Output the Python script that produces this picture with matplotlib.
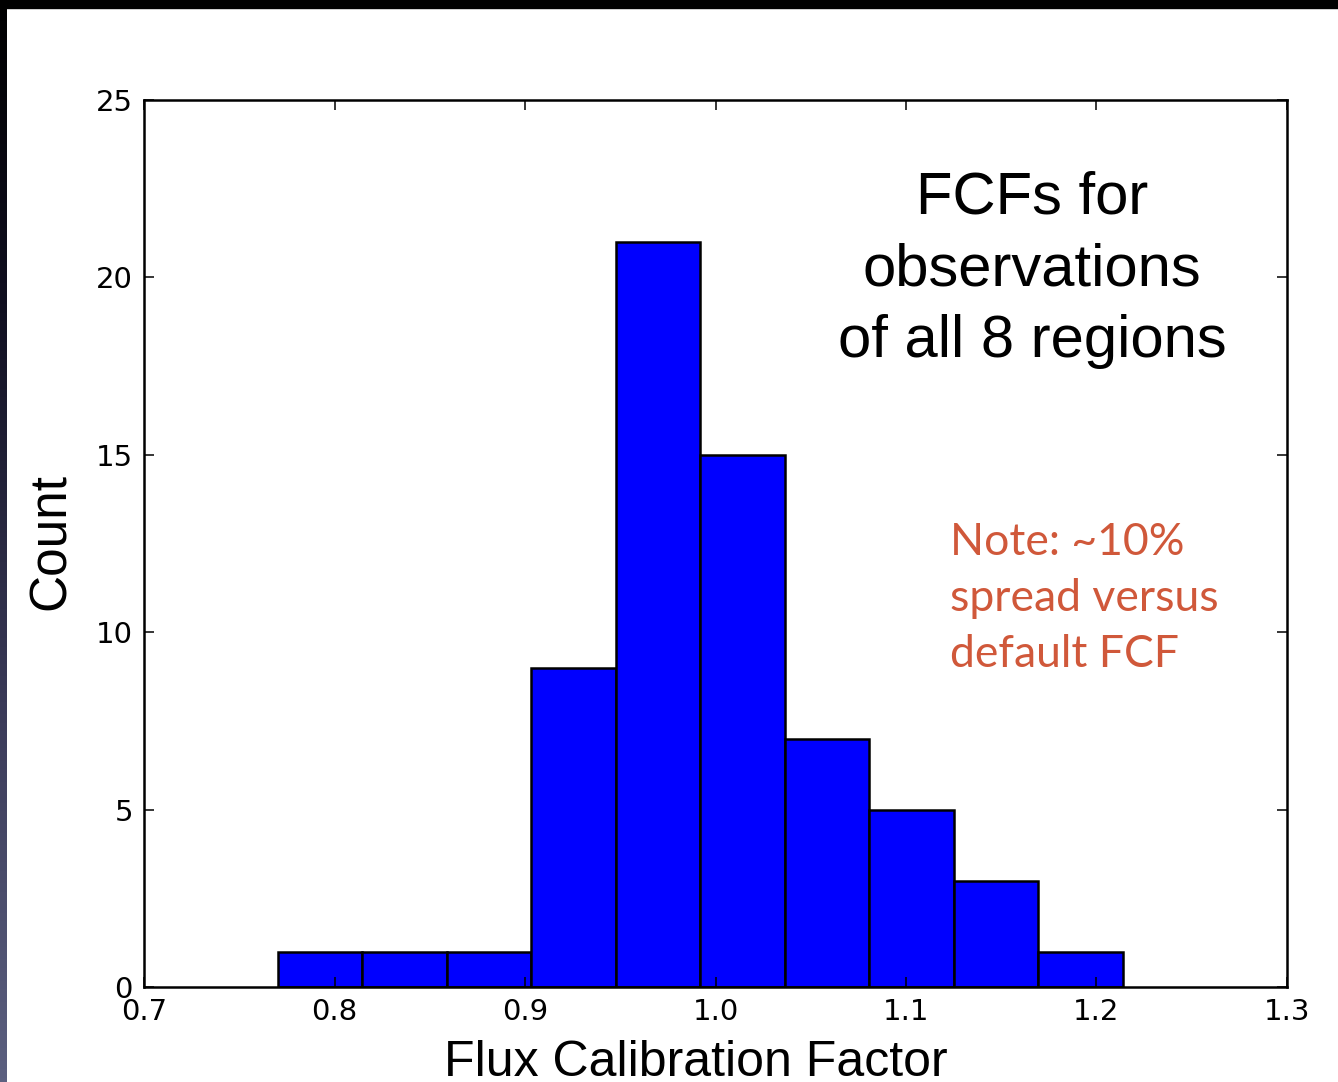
import numpy as np
import matplotlib
matplotlib.use("Agg")
import matplotlib.pyplot as plt
from matplotlib.colors import LinearSegmentedColormap
from matplotlib.patches import Rectangle

# histogram of flux calibration factors (10 equal-width bins)
bin_lo, bin_hi = 0.7703, 1.2139
counts = [1, 1, 1, 9, 21, 15, 7, 5, 3, 1]
bin_edges = np.linspace(bin_lo, bin_hi, len(counts) + 1)

x_ticks = [0.7, 0.8, 0.9, 1.0, 1.1, 1.2, 1.3]
y_ticks = [0, 5, 10, 15, 20, 25]

title_lines = "FCFs for\nobservations\nof all 8 regions"
note_lines = "Note: ~10%\nspread versus\ndefault FCF"

fig = plt.figure(figsize=(13.38, 10.82), dpi=100)
fig.patch.set_facecolor("white")

ax = fig.add_axes([144 / 1338, 1 - 987 / 1082, 1143 / 1338, 887 / 1082])
ax.hist(bin_edges[:-1], bins=bin_edges, weights=counts,
        color="#0000ff", edgecolor="black", linewidth=1.8)

ax.set_xlim(0.7, 1.3)
ax.set_ylim(0, 25)
ax.set_xticks(x_ticks)
ax.set_xticklabels(["%.1f" % t for t in x_ticks])
ax.set_yticks(y_ticks)
ax.tick_params(direction="in", top=True, right=True, length=7, width=1.1,
               labelsize=21, pad=8)
for s in ax.spines.values():
    s.set_linewidth(1.8)

ax.text(0.483, -0.1003, "Flux Calibration Factor", transform=ax.transAxes,
        ha="center", va="baseline", fontsize=36, family="Liberation Sans")
ax.text(-0.0814, 0.5017, "Count", transform=ax.transAxes, rotation=90,
        ha="center", va="center", fontsize=37, family="Liberation Sans")

# multi-line texts: y is the baseline of the last line
fig.text(1032 / 1338, 1 - 357 / 1082, title_lines, ha="center", va="baseline",
         fontsize=43, family="Liberation Sans", linespacing=1.39)
fig.text(950 / 1338, 1 - 667 / 1082, note_lines, ha="left", va="baseline",
         fontsize=32, family="Lato", color="#d0583a", linespacing=1.45)

# slide frame: black band on top, dark gradient strip on the left
fig.patches.append(Rectangle((0, 1 - 8 / 1082), 1, 8 / 1082,
                             transform=fig.transFigure, color="black", zorder=5))
strip = fig.add_axes([0, 0, 7 / 1338, 1])
strip_cmap = LinearSegmentedColormap.from_list(
    "strip", [(0, "#000000"), (0.28, "#100f20"), (0.65, "#3a3a58"), (1, "#5c6080")])
strip.imshow(np.linspace(0, 1, 256)[:, None], aspect="auto", cmap=strip_cmap)
strip.axis("off")

fig.savefig("out.png", dpi=100)
